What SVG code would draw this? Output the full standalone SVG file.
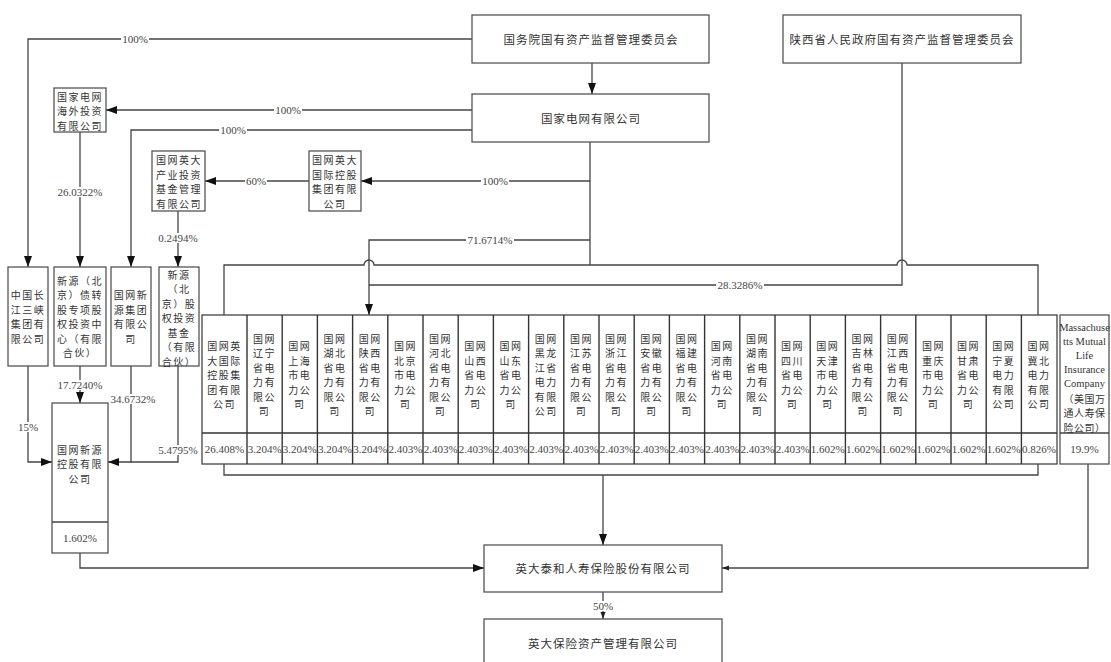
<svg xmlns="http://www.w3.org/2000/svg" width="1111" height="662" viewBox="0 0 1111 662">
<style>
.box{fill:#fff;stroke:#555;stroke-width:1.3}
.ln{fill:none;stroke:#444;stroke-width:1.3}
.cn{font-family:"Noto Sans CJK SC","Noto Sans",sans-serif;font-size:10px;fill:#333;text-anchor:middle;dominant-baseline:central;letter-spacing:1.5px}
.big{font-size:11.5px;letter-spacing:1px}
.num{font-family:"Liberation Serif",serif;font-size:11px;fill:#444;text-anchor:middle;dominant-baseline:central}
.lbl{font-family:"Liberation Serif",serif;font-size:11px;fill:#444;text-anchor:middle;dominant-baseline:central}
.bg{fill:#fff;stroke:none}
.en{font-family:"Liberation Serif",serif;font-size:10.5px;fill:#333;text-anchor:middle;dominant-baseline:central}
.tb{fill:#fff;stroke:#444;stroke-width:1.3}
.dv{stroke:#333;stroke-width:1.4}
</style>
<defs>
<marker id="ah" viewBox="0 0 11 8" refX="11" refY="4" markerWidth="11" markerHeight="8" markerUnits="userSpaceOnUse" orient="auto"><path d="M0,0 L11,4 L0,8 z" fill="#111"/></marker>
<marker id="as" viewBox="0 0 11 8" refX="11" refY="4" markerWidth="7" markerHeight="6" markerUnits="userSpaceOnUse" orient="auto"><path d="M0,0 L11,4 L0,8 z" fill="#222"/></marker>
</defs>

<g id="connectors">
<path class="ln" d="M472,39 H28 V267" marker-end="url(#ah)"/>
<path class="ln" d="M592,63 V94" marker-end="url(#ah)"/>
<path class="ln" d="M472,110 H106" marker-end="url(#ah)"/>
<path class="ln" d="M472,130 H131 V267" marker-end="url(#ah)"/>
<path class="ln" d="M590,142 V265"/>
<path class="ln" d="M590,181 H361" marker-end="url(#ah)"/>
<path class="ln" d="M309,181 H205" marker-end="url(#ah)"/>
<path class="ln" d="M80,132 V267" marker-end="url(#ah)"/>
<path class="ln" d="M178,211 V267" marker-end="url(#ah)"/>
<path class="ln" d="M590,240 H369 V315" marker-end="url(#ah)"/>
<path class="ln" d="M224,315 V265 H364 A5,5 0 0 1 374,265 H897 A5,5 0 0 1 907,265 H1038 V315"/>
<path class="ln" d="M902,63 V285 H369"/>
<path class="ln" d="M224,464 V475 H1038 V464"/>
<path class="ln" d="M603,475 V545" marker-end="url(#ah)"/>
<path class="ln" d="M28,366 V462 H52" marker-end="url(#ah)"/>
<path class="ln" d="M80,366 V403" marker-end="url(#ah)"/>
<path class="ln" d="M131,366 V462 H108" marker-end="url(#ah)"/>
<path class="ln" d="M178,366 V462 H131"/>
<path class="ln" d="M80,553 V568 H484" marker-end="url(#ah)"/>
<path class="ln" d="M1088,464 V568 H722" marker-end="url(#as)"/>
<path class="ln" d="M603,592 V619" marker-end="url(#as)"/>
<rect class="bg" x="121" y="34" width="28" height="10"/><text class="lbl" x="135" y="39">100%</text>
<rect class="bg" x="274" y="105" width="28" height="10"/><text class="lbl" x="288" y="110">100%</text>
<rect class="bg" x="219" y="125" width="28" height="10"/><text class="lbl" x="233" y="130">100%</text>
<rect class="bg" x="481" y="176" width="28" height="10"/><text class="lbl" x="495" y="181">100%</text>
<rect class="bg" x="245" y="176" width="22" height="10"/><text class="lbl" x="256" y="181">60%</text>
<rect class="bg" x="56" y="187" width="48" height="10"/><text class="lbl" x="80" y="192">26.0322%</text>
<rect class="bg" x="157" y="233" width="42" height="10"/><text class="lbl" x="178" y="238">0.2494%</text>
<rect class="bg" x="466" y="235" width="48" height="10"/><text class="lbl" x="490" y="240">71.6714%</text>
<rect class="bg" x="716" y="280" width="48" height="10"/><text class="lbl" x="740" y="285">28.3286%</text>
<rect class="bg" x="17" y="422" width="22" height="10"/><text class="lbl" x="28" y="427">15%</text>
<rect class="bg" x="56" y="380" width="48" height="10"/><text class="lbl" x="80" y="385">17.7240%</text>
<rect class="bg" x="109" y="394" width="48" height="10"/><text class="lbl" x="133" y="399">34.6732%</text>
<rect class="bg" x="157" y="445" width="42" height="10"/><text class="lbl" x="178" y="450">5.4795%</text>
<rect class="bg" x="592" y="601" width="22" height="10"/><text class="lbl" x="603" y="606">50%</text>
</g>

<g id="sasac">
<rect class="box" x="472" y="15" width="237" height="48"/>
<text class="cn big" x="591" y="39">国务院国有资产监督管理委员会</text>
</g>
<g id="shaanxi-sasac">
<rect class="box" x="783" y="15" width="238" height="48"/>
<text class="cn big" x="902" y="39">陕西省人民政府国有资产监督管理委员会</text>
</g>
<g id="sgcc">
<rect class="box" x="472" y="94" width="237" height="48"/>
<text class="cn big" x="591" y="118">国家电网有限公司</text>
</g>
<g id="overseas">
<rect class="box" x="54" y="88" width="52" height="44"/>
<text class="cn"><tspan x="80" y="95.5">国家电网</tspan><tspan x="80" y="110">海外投资</tspan><tspan x="80" y="124.5">有限公司</tspan></text>
</g>
<g id="yingda-fund-mgmt">
<rect class="box" x="152" y="151" width="53" height="60"/>
<text class="cn"><tspan x="179" y="159.25">国网英大</tspan><tspan x="179" y="173.75">产业投资</tspan><tspan x="179" y="188.25">基金管理</tspan><tspan x="179" y="202.75">有限公司</tspan></text>
</g>
<g id="yingda-intl">
<rect class="box" x="309" y="151" width="52" height="60"/>
<text class="cn"><tspan x="335" y="159.25">国网英大</tspan><tspan x="335" y="173.75">国际控股</tspan><tspan x="335" y="188.25">集团有限</tspan><tspan x="335" y="202.75">公司</tspan></text>
</g>
<g id="three-gorges">
<rect class="box" x="8" y="267" width="40" height="99"/>
<text class="cn"><tspan x="28" y="294">中国长</tspan><tspan x="28" y="308.5">江三峡</tspan><tspan x="28" y="323">集团有</tspan><tspan x="28" y="337.5">限公司</tspan></text>
</g>
<g id="xinyuan-debt">
<rect class="box" x="54" y="267" width="52" height="99"/>
<text class="cn"><tspan x="80" y="279.75">新源（北</tspan><tspan x="80" y="294.25">京）债转</tspan><tspan x="80" y="308.75">股专项股</tspan><tspan x="80" y="323.25">权投资中</tspan><tspan x="80" y="337.75">心（有限</tspan><tspan x="80" y="352.25">合伙）</tspan></text>
</g>
<g id="xinyuan-group">
<rect class="box" x="111" y="267" width="40" height="99"/>
<text class="cn"><tspan x="131" y="294">国网新</tspan><tspan x="131" y="308.5">源集团</tspan><tspan x="131" y="323">有限公</tspan><tspan x="131" y="337.5">司</tspan></text>
</g>
<g id="xinyuan-fund">
<rect class="box" x="159" y="267" width="40" height="99"/>
<text class="cn"><tspan x="179" y="273.5">新源</tspan><tspan x="179" y="288">（北</tspan><tspan x="179" y="302.5">京）股</tspan><tspan x="179" y="317">权投资</tspan><tspan x="179" y="331.5">基金</tspan><tspan x="179" y="346">（有限</tspan><tspan x="179" y="360.5">合伙）</tspan></text>
</g>
<g id="xinyuan-holding">
<rect class="box" x="52" y="403" width="56" height="150"/>
<line class="ln" x1="52" y1="522" x2="108" y2="522"/>
<text class="cn"><tspan x="80" y="448.5">国网新源</tspan><tspan x="80" y="463">控股有限</tspan><tspan x="80" y="477.5">公司</tspan></text>
<text class="num" x="80" y="538">1.602%</text>
</g>

<g id="shareholder-table">
<rect class="tb" x="202" y="315" width="855" height="149"/>
<line class="dv" x1="202" y1="433" x2="1057" y2="433"/>
<g class="dv">
<line x1="247" y1="315" x2="247" y2="464"/><line x1="282.2" y1="315" x2="282.2" y2="464"/><line x1="317.4" y1="315" x2="317.4" y2="464"/><line x1="352.6" y1="315" x2="352.6" y2="464"/><line x1="387.8" y1="315" x2="387.8" y2="464"/><line x1="423" y1="315" x2="423" y2="464"/><line x1="458.2" y1="315" x2="458.2" y2="464"/><line x1="493.4" y1="315" x2="493.4" y2="464"/><line x1="528.6" y1="315" x2="528.6" y2="464"/><line x1="563.8" y1="315" x2="563.8" y2="464"/><line x1="599" y1="315" x2="599" y2="464"/><line x1="634.2" y1="315" x2="634.2" y2="464"/><line x1="669.4" y1="315" x2="669.4" y2="464"/><line x1="704.6" y1="315" x2="704.6" y2="464"/><line x1="739.8" y1="315" x2="739.8" y2="464"/><line x1="775" y1="315" x2="775" y2="464"/><line x1="810.2" y1="315" x2="810.2" y2="464"/><line x1="845.4" y1="315" x2="845.4" y2="464"/><line x1="880.6" y1="315" x2="880.6" y2="464"/><line x1="915.8" y1="315" x2="915.8" y2="464"/><line x1="951" y1="315" x2="951" y2="464"/><line x1="986.2" y1="315" x2="986.2" y2="464"/><line x1="1021.4" y1="315" x2="1021.4" y2="464"/>
</g>
<g id="c01"><text class="cn"><tspan x="224.5" y="345">国网英</tspan><tspan x="224.5" y="359.5">大国际</tspan><tspan x="224.5" y="374">控股集</tspan><tspan x="224.5" y="388.5">团有限</tspan><tspan x="224.5" y="403">公司</tspan></text><text class="num" x="224.5" y="448.5">26.408%</text></g>
<g id="c02"><text class="cn"><tspan x="264.6" y="337.75">国网</tspan><tspan x="264.6" y="352.25">辽宁</tspan><tspan x="264.6" y="366.75">省电</tspan><tspan x="264.6" y="381.25">力有</tspan><tspan x="264.6" y="395.75">限公</tspan><tspan x="264.6" y="410.25">司</tspan></text><text class="num" x="264.6" y="448.5">3.204%</text></g>
<g id="c03"><text class="cn"><tspan x="299.8" y="345">国网</tspan><tspan x="299.8" y="359.5">上海</tspan><tspan x="299.8" y="374">市电</tspan><tspan x="299.8" y="388.5">力公</tspan><tspan x="299.8" y="403">司</tspan></text><text class="num" x="299.8" y="448.5">3.204%</text></g>
<g id="c04"><text class="cn"><tspan x="335" y="337.75">国网</tspan><tspan x="335" y="352.25">湖北</tspan><tspan x="335" y="366.75">省电</tspan><tspan x="335" y="381.25">力有</tspan><tspan x="335" y="395.75">限公</tspan><tspan x="335" y="410.25">司</tspan></text><text class="num" x="335" y="448.5">3.204%</text></g>
<g id="c05"><text class="cn"><tspan x="370.2" y="337.75">国网</tspan><tspan x="370.2" y="352.25">陕西</tspan><tspan x="370.2" y="366.75">省电</tspan><tspan x="370.2" y="381.25">力有</tspan><tspan x="370.2" y="395.75">限公</tspan><tspan x="370.2" y="410.25">司</tspan></text><text class="num" x="370.2" y="448.5">3.204%</text></g>
<g id="c06"><text class="cn"><tspan x="405.4" y="345">国网</tspan><tspan x="405.4" y="359.5">北京</tspan><tspan x="405.4" y="374">市电</tspan><tspan x="405.4" y="388.5">力公</tspan><tspan x="405.4" y="403">司</tspan></text><text class="num" x="405.4" y="448.5">2.403%</text></g>
<g id="c07"><text class="cn"><tspan x="440.6" y="337.75">国网</tspan><tspan x="440.6" y="352.25">河北</tspan><tspan x="440.6" y="366.75">省电</tspan><tspan x="440.6" y="381.25">力有</tspan><tspan x="440.6" y="395.75">限公</tspan><tspan x="440.6" y="410.25">司</tspan></text><text class="num" x="440.6" y="448.5">2.403%</text></g>
<g id="c08"><text class="cn"><tspan x="475.8" y="345">国网</tspan><tspan x="475.8" y="359.5">山西</tspan><tspan x="475.8" y="374">省电</tspan><tspan x="475.8" y="388.5">力公</tspan><tspan x="475.8" y="403">司</tspan></text><text class="num" x="475.8" y="448.5">2.403%</text></g>
<g id="c09"><text class="cn"><tspan x="511" y="345">国网</tspan><tspan x="511" y="359.5">山东</tspan><tspan x="511" y="374">省电</tspan><tspan x="511" y="388.5">力公</tspan><tspan x="511" y="403">司</tspan></text><text class="num" x="511" y="448.5">2.403%</text></g>
<g id="c10"><text class="cn"><tspan x="546.2" y="337.75">国网</tspan><tspan x="546.2" y="352.25">黑龙</tspan><tspan x="546.2" y="366.75">江省</tspan><tspan x="546.2" y="381.25">电力</tspan><tspan x="546.2" y="395.75">有限</tspan><tspan x="546.2" y="410.25">公司</tspan></text><text class="num" x="546.2" y="448.5">2.403%</text></g>
<g id="c11"><text class="cn"><tspan x="581.4" y="337.75">国网</tspan><tspan x="581.4" y="352.25">江苏</tspan><tspan x="581.4" y="366.75">省电</tspan><tspan x="581.4" y="381.25">力有</tspan><tspan x="581.4" y="395.75">限公</tspan><tspan x="581.4" y="410.25">司</tspan></text><text class="num" x="581.4" y="448.5">2.403%</text></g>
<g id="c12"><text class="cn"><tspan x="616.6" y="337.75">国网</tspan><tspan x="616.6" y="352.25">浙江</tspan><tspan x="616.6" y="366.75">省电</tspan><tspan x="616.6" y="381.25">力有</tspan><tspan x="616.6" y="395.75">限公</tspan><tspan x="616.6" y="410.25">司</tspan></text><text class="num" x="616.6" y="448.5">2.403%</text></g>
<g id="c13"><text class="cn"><tspan x="651.8" y="337.75">国网</tspan><tspan x="651.8" y="352.25">安徽</tspan><tspan x="651.8" y="366.75">省电</tspan><tspan x="651.8" y="381.25">力有</tspan><tspan x="651.8" y="395.75">限公</tspan><tspan x="651.8" y="410.25">司</tspan></text><text class="num" x="651.8" y="448.5">2.403%</text></g>
<g id="c14"><text class="cn"><tspan x="687" y="337.75">国网</tspan><tspan x="687" y="352.25">福建</tspan><tspan x="687" y="366.75">省电</tspan><tspan x="687" y="381.25">力有</tspan><tspan x="687" y="395.75">限公</tspan><tspan x="687" y="410.25">司</tspan></text><text class="num" x="687" y="448.5">2.403%</text></g>
<g id="c15"><text class="cn"><tspan x="722.2" y="345">国网</tspan><tspan x="722.2" y="359.5">河南</tspan><tspan x="722.2" y="374">省电</tspan><tspan x="722.2" y="388.5">力公</tspan><tspan x="722.2" y="403">司</tspan></text><text class="num" x="722.2" y="448.5">2.403%</text></g>
<g id="c16"><text class="cn"><tspan x="757.4" y="337.75">国网</tspan><tspan x="757.4" y="352.25">湖南</tspan><tspan x="757.4" y="366.75">省电</tspan><tspan x="757.4" y="381.25">力有</tspan><tspan x="757.4" y="395.75">限公</tspan><tspan x="757.4" y="410.25">司</tspan></text><text class="num" x="757.4" y="448.5">2.403%</text></g>
<g id="c17"><text class="cn"><tspan x="792.6" y="345">国网</tspan><tspan x="792.6" y="359.5">四川</tspan><tspan x="792.6" y="374">省电</tspan><tspan x="792.6" y="388.5">力公</tspan><tspan x="792.6" y="403">司</tspan></text><text class="num" x="792.6" y="448.5">2.403%</text></g>
<g id="c18"><text class="cn"><tspan x="827.8" y="345">国网</tspan><tspan x="827.8" y="359.5">天津</tspan><tspan x="827.8" y="374">市电</tspan><tspan x="827.8" y="388.5">力公</tspan><tspan x="827.8" y="403">司</tspan></text><text class="num" x="827.8" y="448.5">1.602%</text></g>
<g id="c19"><text class="cn"><tspan x="863" y="337.75">国网</tspan><tspan x="863" y="352.25">吉林</tspan><tspan x="863" y="366.75">省电</tspan><tspan x="863" y="381.25">力有</tspan><tspan x="863" y="395.75">限公</tspan><tspan x="863" y="410.25">司</tspan></text><text class="num" x="863" y="448.5">1.602%</text></g>
<g id="c20"><text class="cn"><tspan x="898.2" y="337.75">国网</tspan><tspan x="898.2" y="352.25">江西</tspan><tspan x="898.2" y="366.75">省电</tspan><tspan x="898.2" y="381.25">力有</tspan><tspan x="898.2" y="395.75">限公</tspan><tspan x="898.2" y="410.25">司</tspan></text><text class="num" x="898.2" y="448.5">1.602%</text></g>
<g id="c21"><text class="cn"><tspan x="933.4" y="345">国网</tspan><tspan x="933.4" y="359.5">重庆</tspan><tspan x="933.4" y="374">市电</tspan><tspan x="933.4" y="388.5">力公</tspan><tspan x="933.4" y="403">司</tspan></text><text class="num" x="933.4" y="448.5">1.602%</text></g>
<g id="c22"><text class="cn"><tspan x="968.6" y="345">国网</tspan><tspan x="968.6" y="359.5">甘肃</tspan><tspan x="968.6" y="374">省电</tspan><tspan x="968.6" y="388.5">力公</tspan><tspan x="968.6" y="403">司</tspan></text><text class="num" x="968.6" y="448.5">1.602%</text></g>
<g id="c23"><text class="cn"><tspan x="1003.8" y="345">国网</tspan><tspan x="1003.8" y="359.5">宁夏</tspan><tspan x="1003.8" y="374">电力</tspan><tspan x="1003.8" y="388.5">有限</tspan><tspan x="1003.8" y="403">公司</tspan></text><text class="num" x="1003.8" y="448.5">1.602%</text></g>
<g id="c24"><text class="cn"><tspan x="1039" y="345">国网</tspan><tspan x="1039" y="359.5">冀北</tspan><tspan x="1039" y="374">电力</tspan><tspan x="1039" y="388.5">有限</tspan><tspan x="1039" y="403">公司</tspan></text><text class="num" x="1039" y="448.5">0.826%</text></g>
</g>

<g id="massmutual">
<rect class="box" x="1060" y="315" width="49" height="149"/>
<line class="ln" x1="1060" y1="433" x2="1109" y2="433"/>
<text class="en"><tspan x="1084.5" y="327">Massachuse</tspan><tspan x="1084.5" y="341">tts Mutual</tspan><tspan x="1084.5" y="355">Life</tspan><tspan x="1084.5" y="369">Insurance</tspan><tspan x="1084.5" y="383">Company</tspan></text>
<text class="cn" style="letter-spacing:0.5px"><tspan x="1084.5" y="397.5">（美国万</tspan><tspan x="1084.5" y="412">通人寿保</tspan><tspan x="1084.5" y="426.5">险公司）</tspan></text>
<text class="num" x="1084.5" y="448.5">19.9%</text>
</g>
<g id="yingda-taihe">
<rect class="box" x="484" y="545" width="238" height="47"/>
<text class="cn big" x="603" y="568">英大泰和人寿保险股份有限公司</text>
</g>
<g id="yingda-asset">
<rect class="box" x="484" y="619" width="238" height="50"/>
<text class="cn big" x="603" y="643">英大保险资产管理有限公司</text>
</g>
</svg>
